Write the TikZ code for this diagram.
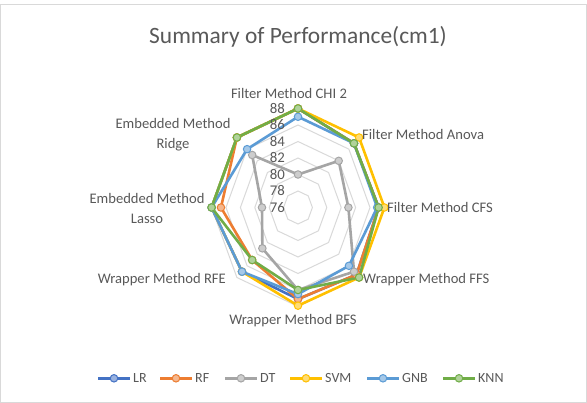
\documentclass[tikz,border=0pt]{standalone}
\usepackage{fontspec}
\usepackage{graphicx}
\usetikzlibrary{calc}
\setmainfont{Carlito}
\definecolor{cLR}{HTML}{4472C4}
\definecolor{cRF}{HTML}{ED7D31}
\definecolor{cDT}{HTML}{A5A5A5}
\definecolor{cSVM}{HTML}{FFC000}
\definecolor{cGNB}{HTML}{5B9BD5}
\definecolor{cKNN}{HTML}{70AD47}
\definecolor{txt}{HTML}{595959}
\definecolor{gridc}{HTML}{D9D9D9}
\tikzset{
  gridline/.style={draw=gridc, line width=1pt},
  serline/.style={line width=2.6pt, line join=round},
  mk/.style={circle, inner sep=0pt, minimum size=7.5pt, line width=1pt, draw=#1, fill=#1!55!white},
  catlabel/.style={text=txt, font=\fontsize{14.6}{20}\selectfont, inner sep=0pt},
  numlabel/.style={text=txt, font=\fontsize{14.8}{17}\selectfont, inner sep=0pt, anchor=east},
  legtext/.style={text=txt, font=\fontsize{14}{16}\selectfont, inner sep=0pt, anchor=west},
}
\newcommand\drawseries[3]{%
  \foreach \v [count=\k from 0] in {#3} {
    \coordinate (#1-\k) at ({(\v-76)*cos(90-45*\k)},{(\v-76)*sin(90-45*\k)});
  }
  \draw[serline, draw=#2] (#1-0) -- (#1-1) -- (#1-2) -- (#1-3) -- (#1-4) -- (#1-5) -- (#1-6) -- (#1-7) -- cycle;
}
\newcommand\drawmarks[2]{%
  \foreach \k in {0,...,7} { \node[mk=#2] (#1-m\k) at (#1-\k) {}; }
}
\begin{document}
\begin{tikzpicture}[x=1pt,y=-1pt]
\useasboundingbox (0,0) rectangle (587,403);
\fill[white] (0,0) rectangle (587,403);
\draw[gridc, line width=1pt] (0.5,4.5) rectangle (586.5,402.5);
\node[text=txt, font=\fontsize{23.4}{28}\selectfont, inner sep=0pt] (title) at (298,37) {Summary of Performance(cm1)};
\coordinate (C) at (298,207.5);
\begin{scope}[shift={(C)}, x=7.2pt, y=8.25pt]
  \foreach \r in {2,4,...,12} {
    \draw[gridline] ({\r*cos(90)},{\r*sin(90)}) \foreach \a in {45,0,-45,-90,-135,-180,-225} { -- ({\r*cos(\a)},{\r*sin(\a)}) } -- cycle;
  }
  \drawseries{LR}{cLR}{88,87,87.2,87.5,87.1,87,88,88}
  \drawseries{RF}{cRF}{88,87,87.2,87.5,87.1,85,86.7,88}
  \drawseries{DT}{cDT}{80,84,83,87,86,83,81,85}
  \drawseries{SVM}{cSVM}{88,88,88,88,87.9,87,88,88}
  \drawseries{GNB}{cGNB}{87,87,87,86,86.5,87,88,86}
  \drawseries{KNN}{cKNN}{88,87,87.2,88,86,85,88,88}
  \drawmarks{LR}{cLR}
  \drawmarks{RF}{cRF}
  \drawmarks{DT}{cDT}
  \drawmarks{SVM}{cSVM}
  \drawmarks{GNB}{cGNB}
  \drawmarks{KNN}{cKNN}
\end{scope}
% axis numbers
\foreach \n [count=\j from 0] in {76,78,80,82,84,86,88} {
  \node[numlabel] (num\n) at (285,{207.5-16.5*\j}) {\n};
}
% category labels
\node[catlabel] (lchi) at (289,93) {Filter Method CHI 2};
\node[catlabel, anchor=west] (lanova) at (362,134) {Filter Method Anova};
\node[catlabel, anchor=west] (lcfs) at (387,207) {Filter Method CFS};
\node[catlabel, anchor=west] (lffs) at (363,280) {Wrapper Method FFS};
\node[catlabel] (lbfs) at (293,321) {Wrapper Method BFS};
\node[catlabel, anchor=east] (lrfe) at (226,280) {Wrapper Method RFE};
\node[catlabel, align=center] (llasso) at (147,208.3) {Embedded Method\\Lasso};
\node[catlabel, align=center] (lridge) at (173,135) {Embedded Method\\Ridge};
% legend
\foreach \nm/\col/\xa in {LR/cLR/98, RF/cRF/160, DT/cDT/225, SVM/cSVM/290, GNB/cGNB/367, KNN/cKNN/443} {
  \coordinate (lg\nm a) at (\xa,378.3);
  \coordinate (lg\nm b) at (\xa+32,378.3);
  \draw[serline, draw=\col] (lg\nm a) -- (lg\nm b);
  \node[mk=\col] (lg\nm m) at ($(lg\nm a)!0.5!(lg\nm b)$) {};
  \node[legtext] (lg\nm t) at (\xa+35,378.3) {\nm};
}
\end{tikzpicture}
\end{document}
